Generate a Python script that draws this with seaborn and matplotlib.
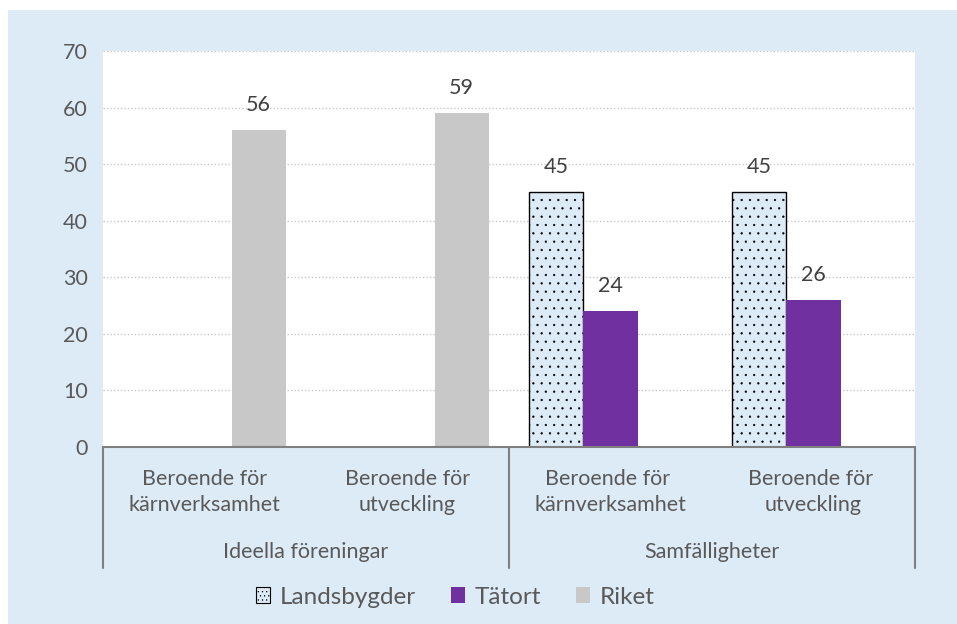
import pandas as pd
import seaborn as sns
import matplotlib.pyplot as plt
from matplotlib.patches import Patch, Rectangle
import matplotlib.transforms as mtransforms

# ----------------------------------------------------------------------
# DATA
# ----------------------------------------------------------------------
categories = [
    "Beroende för\nkärnverksamhet",
    "Beroende för\nutveckling",
    "Beroende för \nkärnverksamhet",
    "Beroende för \nutveckling",
]
groups = ["Ideella föreningar", "Samfälligheter"]
series = ["Landsbygder", "Tätort", "Riket"]

landsbygder = [None, None, 45, 45]
tatort = [None, None, 24, 26]
riket = [56, 59, None, None]

rows = []
for name, vals in zip(series, [landsbygder, tatort, riket]):
    for cat, v in zip(categories, vals):
        if v is not None:
            rows.append({"kategori": cat, "serie": name, "andel": v})
df = pd.DataFrame(rows)

palette = {
    "Landsbygder": "#DDEBF7",
    "Tätort": "#7030A0",
    "Riket": "#C8C8C8",
}
bg_blue = "#DDEBF7"
text_gray = "#595959"

# ----------------------------------------------------------------------
# PLOT
# ----------------------------------------------------------------------
sns.set_style("white")
plt.rcParams["font.family"] = ["Lato", "DejaVu Sans"]
plt.rcParams["hatch.linewidth"] = 0.4

fig = plt.figure(figsize=(9.57, 6.24), dpi=100, facecolor="white")
fig.patches.append(Rectangle((8 / 957, 0), 1, 614 / 624, transform=fig.transFigure,
                             facecolor=bg_blue, edgecolor="none", zorder=-10))
ax = fig.add_axes([103 / 957, 177 / 624, 812 / 957, 396 / 624])
ax.set_facecolor("white")

sns.barplot(data=df, x="kategori", y="andel", hue="serie",
            order=categories, hue_order=series, palette=palette,
            width=0.8, ax=ax, legend=False, errorbar=None, saturation=1)

for cont, name in zip(ax.containers, series):
    for bar in cont:
        if name == "Landsbygder":
            bar.set_hatch("..")
            bar.set_edgecolor("black")
            bar.set_linewidth(1.0)
        else:
            bar.set_edgecolor("none")
    ax.bar_label(cont, fmt="%.0f", padding=11, fontsize=15.5, color="#404040")

ax.set_xlim(-0.5, 3.5)
ax.set_ylim(0, 70)
ax.set_yticks(range(0, 71, 10))
ax.yaxis.grid(True, linestyle=(0, (1, 1.5)), color="#C8C8C8", linewidth=1)
ax.set_axisbelow(True)
for side in ["left", "right", "top"]:
    ax.spines[side].set_visible(False)
ax.spines["bottom"].set_color("#7F7F7F")
ax.spines["bottom"].set_linewidth(1.5)

ax.tick_params(axis="y", length=0, pad=11, labelsize=15.5, labelcolor=text_gray)
ax.tick_params(axis="x", length=0, pad=16, labelsize=15.5, labelcolor=text_gray)
for lab in ax.get_xticklabels():
    lab.set_linespacing(1.38)
ax.set_xlabel("")
ax.set_ylabel("")

# Two-level category axis
trans = mtransforms.blended_transform_factory(ax.transData, ax.transAxes)
sep_depth = -121 / 396
for x in [-0.5, 1.5, 3.5]:
    ax.plot([x, x], [0, sep_depth], transform=trans, color="#7F7F7F",
            linewidth=1.5, clip_on=False)
for i, g in enumerate(groups):
    ax.text(0.5 + 2 * i, -105 / 396, g, transform=trans, ha="center", va="center",
            fontsize=15.5, color=text_gray)

# Legend
handles = [Patch(facecolor=palette[s], edgecolor="black" if s == "Landsbygder" else "none",
                 hatch="...." if s == "Landsbygder" else None, linewidth=0.8)
           for s in series]
fig.legend(handles, series, loc="center", bbox_to_anchor=(455 / 957, 27 / 624),
           ncol=3, frameon=False, fontsize=17.5, handlelength=0.6, handleheight=0.6,
           handletextpad=0.37, columnspacing=1.45, labelcolor=text_gray)

fig.savefig("out.png", dpi=100, facecolor="white")
